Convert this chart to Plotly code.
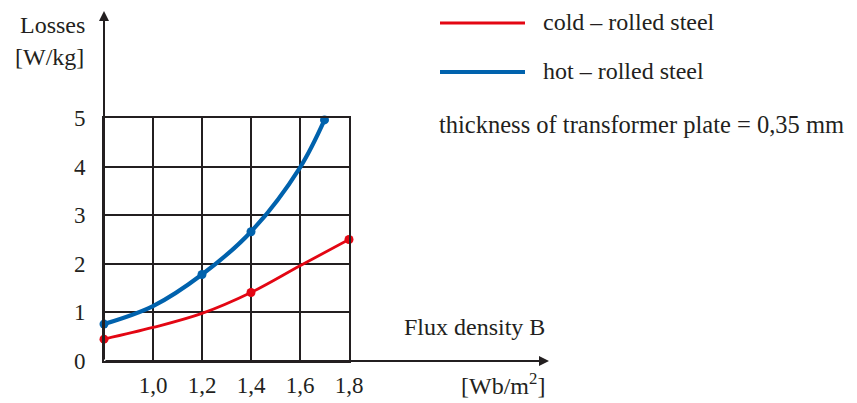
import plotly.graph_objects as go

# ---- data ----
flux_cold = [0.8, 1.0, 1.2, 1.4, 1.6, 1.8]
loss_cold = [0.45, 0.69, 0.98, 1.41, 1.96, 2.5]
flux_cold_pts = [0.8, 1.4, 1.8]
loss_cold_pts = [0.45, 1.41, 2.5]

flux_hot = [0.8, 1.0, 1.2, 1.4, 1.6, 1.7]
loss_hot = [0.76, 1.13, 1.78, 2.66, 3.98, 4.96]
flux_hot_pts = [0.8, 1.2, 1.4, 1.7]
loss_hot_pts = [0.76, 1.78, 2.66, 4.96]

x_ticks = [0.8, 1.0, 1.2, 1.4, 1.6, 1.8]
x_ticktext = ["", "1,0", "1,2", "1,4", "1,6", "1,8"]
y_ticks = [0, 1, 2, 3, 4, 5]
y_ticktext = ["0", "1", "2", "3", "4", "5"]

RED = "#e30613"
BLUE = "#0062ad"
INK = "#231f20"
FONT = "Liberation Serif"
FS = 24

W, H = 857, 403
L, R, T, B = 104, 349, 118, 361  # plot area pixel bounds


def px(X):
    return (X - L) / (R - L)


def py(Y):
    return (B - Y) / (B - T)


fig = go.Figure()
fig.add_trace(go.Scatter(x=flux_cold, y=loss_cold, mode="lines",
                         line=dict(color=RED, width=2.8, shape="spline"),
                         hoverinfo="skip", cliponaxis=False))
fig.add_trace(go.Scatter(x=flux_cold_pts, y=loss_cold_pts, mode="markers",
                         marker=dict(color=RED, size=9), cliponaxis=False))
fig.add_trace(go.Scatter(x=flux_hot, y=loss_hot, mode="lines",
                         line=dict(color=BLUE, width=4.2, shape="spline"),
                         hoverinfo="skip", cliponaxis=False))
fig.add_trace(go.Scatter(x=flux_hot_pts, y=loss_hot_pts, mode="markers",
                         marker=dict(color=BLUE, size=9), cliponaxis=False))

annotations = []
# axis arrows
annotations.append(dict(xref="paper", yref="paper", x=px(549), y=py(361), text="",
                         showarrow=True, ax=-(549 - L), ay=0, arrowhead=2,
                         arrowsize=1, arrowwidth=2, arrowcolor=INK))
annotations.append(dict(xref="paper", yref="paper", x=px(104), y=py(11), text="",
                         showarrow=True, ax=0, ay=(361 - 11), arrowhead=2,
                         arrowsize=1, arrowwidth=2, arrowcolor=INK))


def txt(s, X, Y, xanchor="left", size=FS):
    annotations.append(dict(xref="paper", yref="paper", x=px(X), y=py(Y), text=s,
                            showarrow=False, xanchor=xanchor, yanchor="middle",
                            font=dict(family=FONT, size=size, color=INK)))


txt("Losses", 87, 25, "right")
txt("[W/kg]", 86, 57, "right")
txt("cold – rolled steel", 541, 22)
txt("hot – rolled steel", 541, 71)
txt("thickness of transformer plate = 0,35 mm", 437, 124, size=24.5)
txt("Flux density B", 547, 327, "right")
txt("[Wb/m<sup>2</sup>]", 547, 384, "right")

shapes = [
    dict(type="line", xref="paper", yref="paper", x0=px(440), x1=px(525),
         y0=py(23), y1=py(23), line=dict(color=RED, width=2.8)),
    dict(type="line", xref="paper", yref="paper", x0=px(440), x1=px(525),
         y0=py(72), y1=py(72), line=dict(color=BLUE, width=4.2)),
]

fig.update_layout(
    width=W, height=H,
    margin=dict(l=L, r=W - R, t=T, b=H - B, pad=0, autoexpand=False),
    paper_bgcolor="white", plot_bgcolor="white",
    showlegend=False,
    annotations=annotations, shapes=shapes,
    font=dict(family=FONT, size=FS, color=INK),
    xaxis=dict(range=[0.8, 1.8], tickvals=x_ticks, ticktext=x_ticktext,
               showgrid=True, gridcolor=INK, gridwidth=2,
               showline=True, mirror=True, linecolor=INK, linewidth=2,
               zeroline=False, ticks="", ticklabelstandoff=2, automargin=False,
               tickfont=dict(family=FONT, size=FS - 1, color=INK), fixedrange=True),
    yaxis=dict(range=[0, 5], tickvals=y_ticks, ticktext=y_ticktext,
               showgrid=True, gridcolor=INK, gridwidth=2,
               showline=True, mirror=True, linecolor=INK, linewidth=2,
               zeroline=False, ticks="", ticklabelstandoff=12, automargin=False,
               tickfont=dict(family=FONT, size=FS - 1, color=INK), fixedrange=True),
)

fig.write_html("out.html", config={"displayModeBar": False})
